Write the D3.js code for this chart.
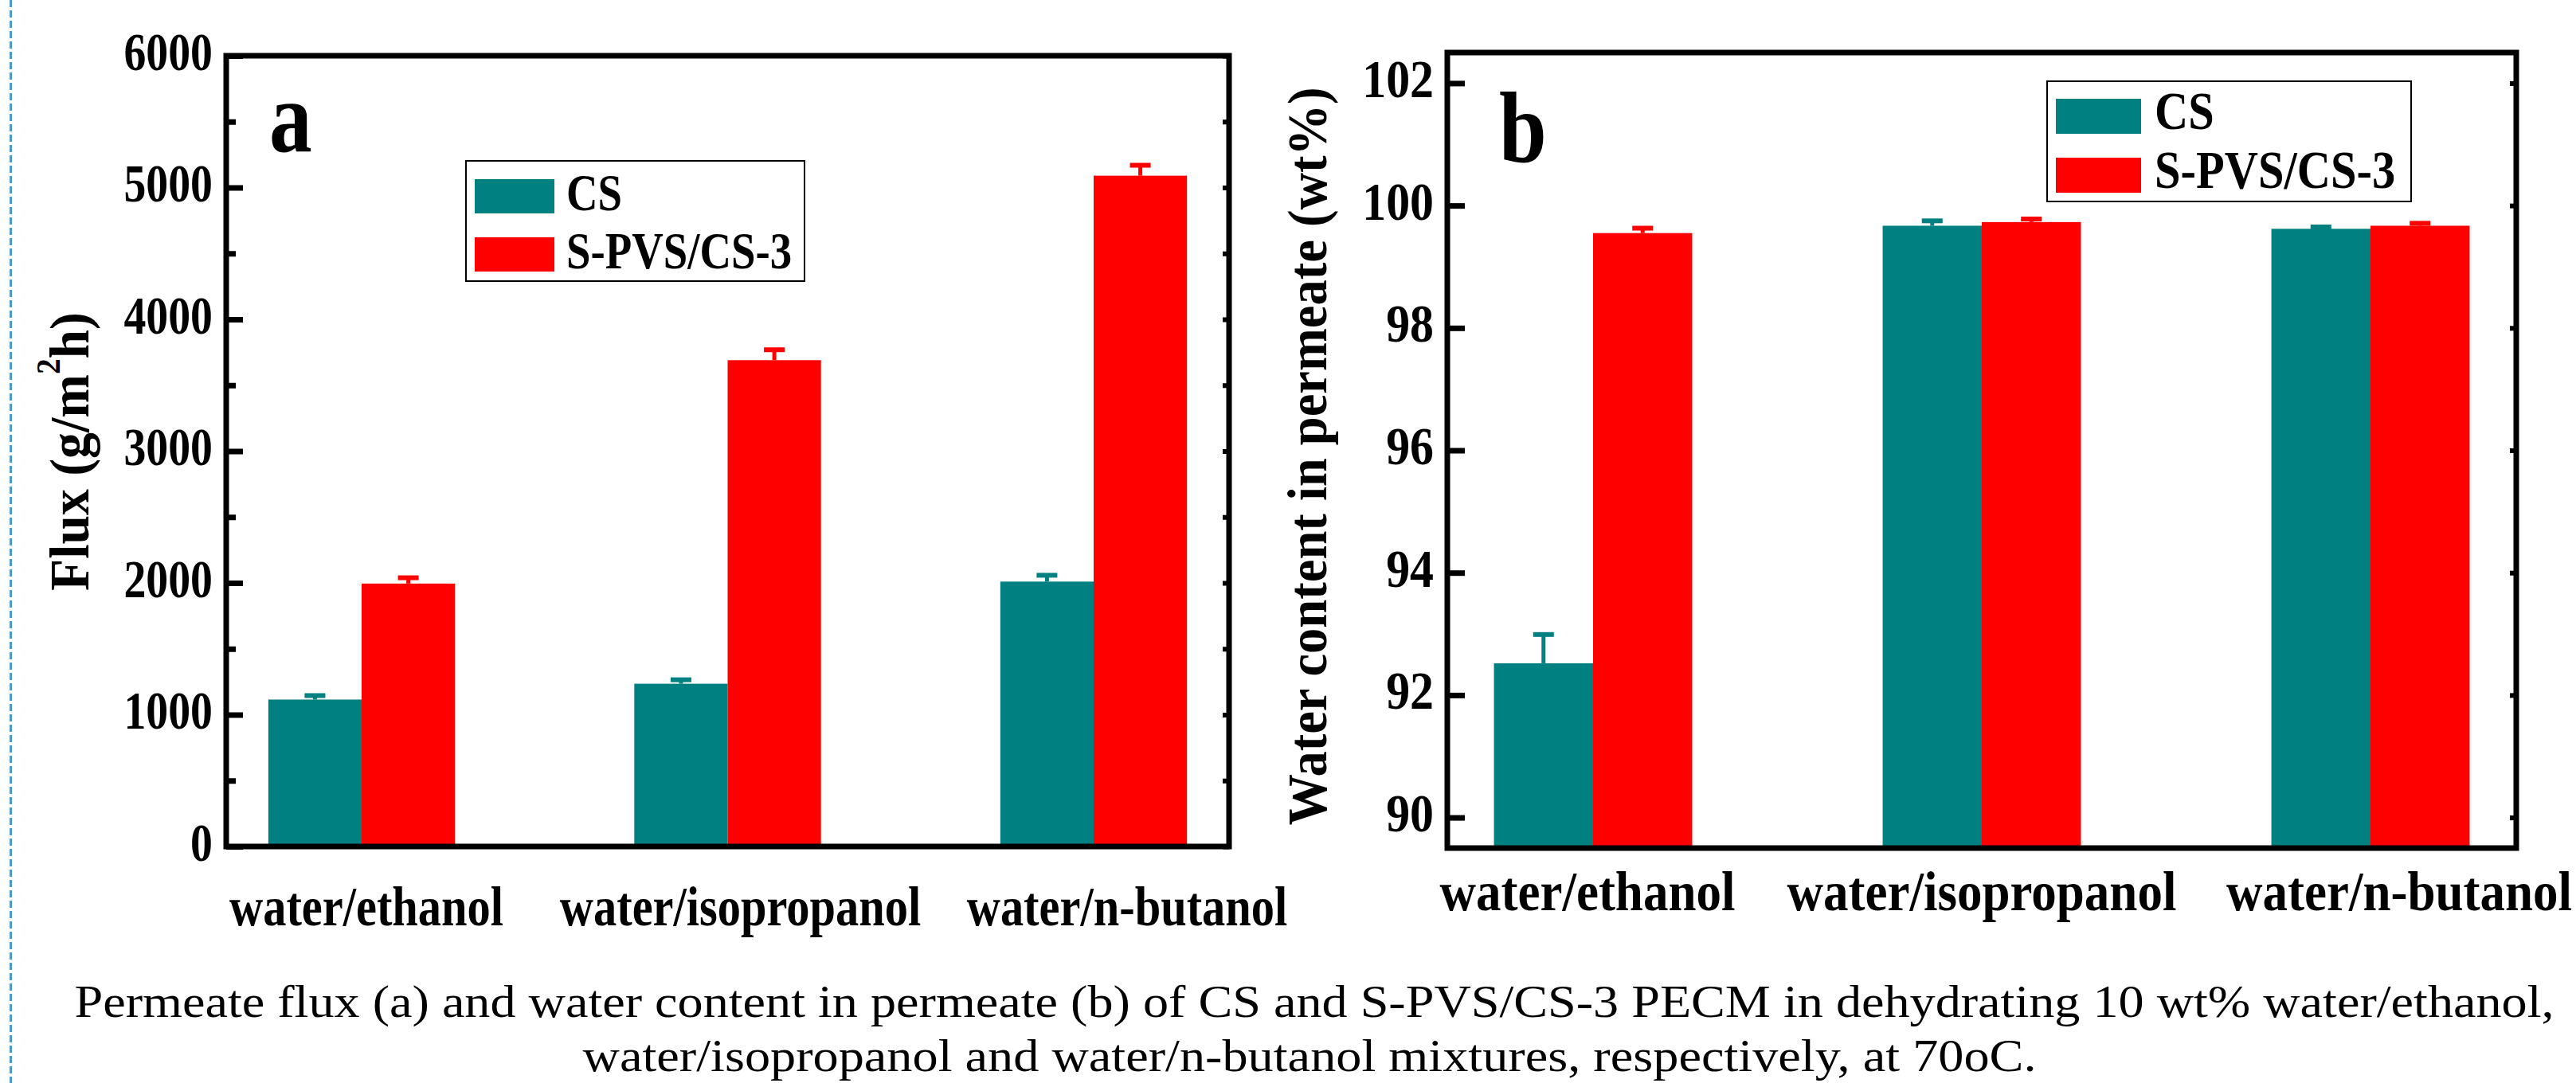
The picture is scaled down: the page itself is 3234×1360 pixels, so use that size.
<!DOCTYPE html>
<html lang="en">
<head>
    <meta charset="UTF-8">
    <title>Flux and water content</title>
    <script src="https://cdnjs.cloudflare.com/ajax/libs/d3/7.8.5/d3.min.js"></script>
    <style>
        body { margin: 0; background: #fff; }
        svg { display: block; }
        text { font-family: "Liberation Serif", "Times New Roman", serif; fill: #000; }
    </style>
</head>
<body>
    <script>
        // Data
        const categories = ['water/ethanol', 'water/isopropanol', 'water/n-butanol'];
        const seriesNames = ['CS', 'S-PVS/CS-3'];
        const seriesColors = ['#008080', '#ff0000'];

        const fluxCS = [1115, 1235, 2010];
        const fluxCSErr = [30, 30, 48];
        const fluxSPVS = [1995, 3690, 5090];
        const fluxSPVSErr = [44, 79, 79];

        const waterCS = [92.52, 99.67, 99.62];
        const waterCSErr = [0.47, 0.08, 0.03];
        const waterSPVS = [99.55, 99.73, 99.67];
        const waterSPVSErr = [0.08, 0.05, 0.04];

        const fluxTicks = [0, 1000, 2000, 3000, 4000, 5000, 6000];
        const fluxMinorTicks = [500, 1500, 2500, 3500, 4500, 5500];
        const waterTicks = [90, 92, 94, 96, 98, 100, 102];

        const captionLines = [
            'Permeate flux (a) and water content in permeate (b) of CS and S-PVS/CS-3 PECM in dehydrating 10 wt% water/ethanol,',
            'water/isopropanol and water/n-butanol mixtures, respectively, at 70oC.'
        ];

        const W = 3234, H = 1360;
        const svg = d3.select('body').append('svg')
            .attr('width', W).attr('height', H);
        svg.append('rect').attr('width', W).attr('height', H).attr('fill', '#fff');

        // dashed page guide at the left
        svg.append('line')
            .attr('x1', 13.5).attr('x2', 13.5).attr('y1', 0).attr('y2', H)
            .attr('stroke', '#4a9ad4').attr('stroke-width', 3)
            .attr('stroke-dasharray', '9,4');

        // squeezed bold serif text, like the original figure
        function label(g, str, x, y, o) {
            const t = g.append('text')
                .attr('transform', `translate(${x},${y}) scale(${o.sx || 1},1)`)
                .attr('font-size', o.size)
                .attr('font-weight', o.weight || 'bold')
                .attr('text-anchor', o.anchor || 'start')
                .text(str);
            return t;
        }

        function panel(cfg) {
            const g = svg.append('g');
            const { left, right, top, bottom } = cfg.frame;

            const x = d3.scalePoint().domain(categories).range([left, right]).padding(cfg.pad);
            const y = d3.scaleLinear().domain(cfg.domain).range([bottom, top]);
            const barW = x.step() * 0.255;

            const rows = categories.map((c, i) => ({
                cat: c, i,
                vals: [cfg.a[i], cfg.b[i]],
                errs: [cfg.aErr[i], cfg.bErr[i]]
            }));

            // bars and one-sided error bars
            rows.forEach(r => {
                r.vals.forEach((v, k) => {
                    const x0 = x(r.cat) + (k === 0 ? -barW : 0);
                    const cx = x0 + barW / 2;
                    const top1 = y(v + r.errs[k]);
                    g.append('rect')
                        .attr('x', x0).attr('y', y(v))
                        .attr('width', barW).attr('height', y(cfg.domain[0]) - y(v))
                        .attr('fill', seriesColors[k]);
                    g.append('line')
                        .attr('x1', cx).attr('x2', cx)
                        .attr('y1', y(v)).attr('y2', top1)
                        .attr('stroke', seriesColors[k]).attr('stroke-width', 5);
                    g.append('line')
                        .attr('x1', cx - 13).attr('x2', cx + 13)
                        .attr('y1', top1).attr('y2', top1)
                        .attr('stroke', seriesColors[k]).attr('stroke-width', 6);
                });
            });

            // left axis: inward ticks, labels outside
            const axL = g.append('g').attr('transform', `translate(${left},0)`)
                .call(d3.axisLeft(y).tickValues(cfg.ticks).tickSize(-cfg.major).tickFormat(d3.format('d')));
            axL.select('.domain').remove();
            axL.selectAll('.tick line').attr('stroke', '#000').attr('stroke-width', 7);
            axL.selectAll('.tick text')
                .attr('x', null).attr('dy', null)
                .attr('transform', `translate(-17,17) scale(${cfg.tickSx},1)`)
                .attr('font-size', 68).attr('font-weight', 'bold')
                .attr('font-family', '"Liberation Serif", "Times New Roman", serif')
                .attr('fill', '#000');

            if (cfg.minor) {
                const axM = g.append('g').attr('transform', `translate(${left},0)`)
                    .call(d3.axisLeft(y).tickValues(cfg.minor).tickSize(-12).tickFormat(''));
                axM.select('.domain').remove();
                axM.selectAll('.tick line').attr('stroke', '#000').attr('stroke-width', 7);
            }

            // right axis: short inward ticks
            const allTicks = cfg.ticks.concat(cfg.minor || []);
            const axR = g.append('g').attr('transform', `translate(${right},0)`)
                .call(d3.axisRight(y).tickValues(allTicks).tickSize(-8).tickFormat(''));
            axR.select('.domain').remove();
            axR.selectAll('.tick line').attr('stroke', '#000').attr('stroke-width', 6);

            // frame
            g.append('rect')
                .attr('x', left).attr('y', top)
                .attr('width', right - left).attr('height', bottom - top)
                .attr('fill', 'none').attr('stroke', '#000').attr('stroke-width', 7);

            // category labels
            categories.forEach((c, i) => {
                label(g, c, x(c) + cfg.nudge[i], cfg.catY, { size: 70, sx: cfg.catSx, anchor: 'middle' });
            });

            // panel letter
            label(g, cfg.letter, cfg.letterPos[0], cfg.letterPos[1], { size: 128, sx: 0.84 });

            // legend
            const L = cfg.legend;
            g.append('rect')
                .attr('x', L.x).attr('y', L.y).attr('width', L.w).attr('height', L.h)
                .attr('fill', '#fff').attr('stroke', '#000').attr('stroke-width', 2);
            seriesNames.forEach((s, k) => {
                g.append('rect')
                    .attr('x', L.x + 11).attr('y', L.y + L.sw0 + k * L.gap)
                    .attr('width', L.swW).attr('height', L.swH)
                    .attr('fill', seriesColors[k]);
                label(g, s, L.x + L.tx, L.y + L.base0 + k * L.gap, { size: L.size, sx: L.sx });
            });

            // y title
            const yt = g.append('text')
                .attr('transform', `translate(${cfg.yTitle.x},${cfg.yTitle.y}) rotate(-90)`)
                .attr('font-size', 70).attr('font-weight', 'bold')
                .attr('text-anchor', 'middle')
                .attr('textLength', cfg.yTitle.len).attr('lengthAdjust', 'spacingAndGlyphs');
            cfg.yTitle.parts.forEach(p => {
                const ts = yt.append('tspan').text(p.t);
                if (p.size) ts.attr('font-size', p.size);
                if (p.dy) ts.attr('dy', p.dy);
            });
        }

        panel({
            frame: { left: 284, right: 1543, top: 70, bottom: 1063 },
            pad: 0.37,
            domain: [0, 6000],
            ticks: fluxTicks, minor: fluxMinorTicks, major: 21,
            tickSx: 0.82,
            a: fluxCS, aErr: fluxCSErr, b: fluxSPVS, bErr: fluxSPVSErr,
            catY: 1162, catSx: 0.835, nudge: [6, 16, 42],
            letter: 'a', letterPos: [338, 190],
            legend: { x: 585, y: 202, w: 425, h: 151, sw0: 23, swW: 100, swH: 43, gap: 73,
                      tx: 126, base0: 62, size: 66, sx: 0.83 },
            yTitle: { x: 111, y: 567, len: 350,
                      parts: [{ t: 'Flux (g/m' }, { t: '2', size: 42, dy: -36 }, { t: 'h)', dy: 36 }] }
        });

        panel({
            frame: { left: 1817, right: 3159, top: 66, bottom: 1065 },
            pad: 0.375,
            domain: [89.5, 102.5],
            ticks: waterTicks, minor: null, major: 22,
            tickSx: 0.88,
            a: waterCS, aErr: waterCSErr, b: waterSPVS, bErr: waterSPVSErr,
            catY: 1143, catSx: 0.9, nudge: [-7, 0, 36],
            letter: 'b', letterPos: [1882, 203],
            legend: { x: 2570, y: 102, w: 457, h: 151, sw0: 22, swW: 107, swH: 44, gap: 74,
                      tx: 135, base0: 60, size: 68, sx: 0.86 },
            yTitle: { x: 1665, y: 573, len: 927,
                      parts: [{ t: 'Water content in permeate (wt%)' }] }
        });

        // caption
        const capX = [1650, 1644], capY = [1277, 1345], capLen = [3113, 1825];
        captionLines.forEach((s, i) => {
            svg.append('text')
                .attr('x', capX[i]).attr('y', capY[i])
                .attr('font-size', 58).attr('text-anchor', 'middle')
                .attr('textLength', capLen[i]).attr('lengthAdjust', 'spacingAndGlyphs')
                .text(s);
        });
    </script>
</body>
</html>
